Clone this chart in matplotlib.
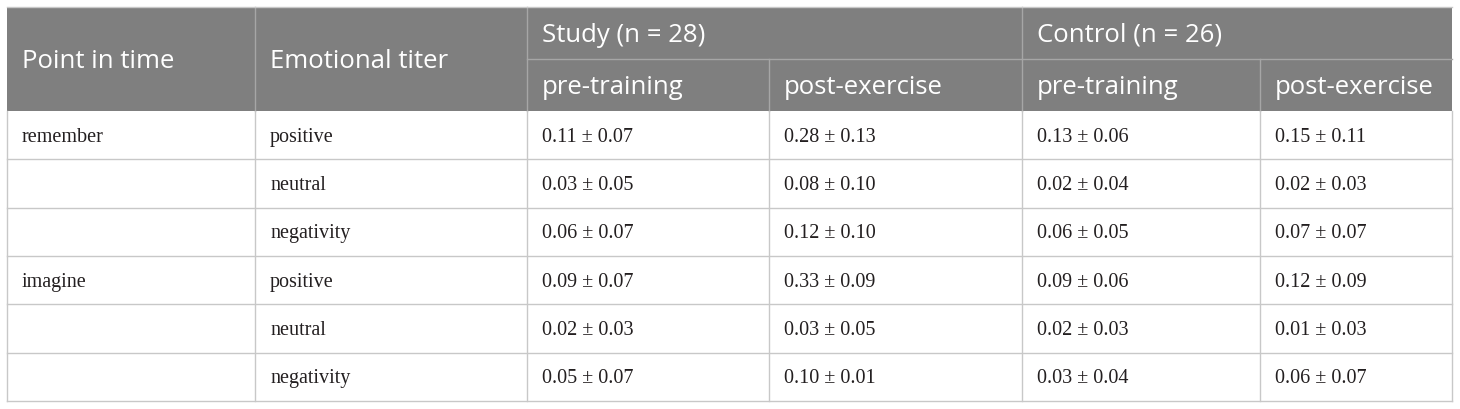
import matplotlib.pyplot as plt
from matplotlib.patches import Rectangle

# table content
groups = ["Study (n = 28)", "Control (n = 26)"]
phases = ["pre-training", "post-exercise"]
time_points = ["remember", "", "", "imagine", "", ""]
titers = ["positive", "neutral", "negativity", "positive", "neutral", "negativity"]
study_pre = ["0.11 ± 0.07", "0.03 ± 0.05", "0.06 ± 0.07", "0.09 ± 0.07", "0.02 ± 0.03", "0.05 ± 0.07"]
study_post = ["0.28 ± 0.13", "0.08 ± 0.10", "0.12 ± 0.10", "0.33 ± 0.09", "0.03 ± 0.05", "0.10 ± 0.01"]
control_pre = ["0.13 ± 0.06", "0.02 ± 0.04", "0.06 ± 0.05", "0.09 ± 0.06", "0.02 ± 0.03", "0.03 ± 0.04"]
control_post = ["0.15 ± 0.11", "0.02 ± 0.03", "0.07 ± 0.07", "0.12 ± 0.09", "0.01 ± 0.03", "0.06 ± 0.07"]

# layout in pixels
W, H = 1460, 409
col_x = [7, 255, 527, 769, 1022, 1260, 1452]
top, mid, head_bot = 7, 59, 111
row_h = (401 - head_bot) / 6
pad = 15
dy = 2  # text sits a bit below the cell centre

head_bg = '#7f7f7f'
head_line = '#a6a6a6'
grid = '#c8c8c8'
head_font = dict(family='Open Sans', size=18.5, color='white', va='center', ha='left')
cell_font = dict(family='Liberation Serif', size=14.5, color='#231f20', va='center', ha='left')

fig = plt.figure(figsize=(W / 100, H / 100), dpi=100)
ax = fig.add_axes([0, 0, 1, 1])
ax.set_xlim(0, W)
ax.set_ylim(H, 0)
ax.axis('off')

# header background
ax.add_patch(Rectangle((col_x[0], top), col_x[-1] - col_x[0], head_bot - top,
                       facecolor=head_bg, edgecolor='none'))

# header lines
for x in col_x[1:-1]:
    y0 = top if x in (col_x[1], col_x[2], col_x[4]) else mid
    ax.plot([x, x], [y0, head_bot], color=head_line, lw=1)
ax.plot([col_x[2], col_x[-1]], [mid, mid], color=head_line, lw=1)

# header text
ax.text(col_x[0] + pad, (top + head_bot) / 2 + dy, "Point in time", **head_font)
ax.text(col_x[1] + pad, (top + head_bot) / 2 + dy, "Emotional titer", **head_font)
for gi, g in enumerate(groups):
    ax.text(col_x[2 + 2 * gi] + pad, (top + mid) / 2 + dy, g, **head_font)
    for pi, p in enumerate(phases):
        ax.text(col_x[2 + 2 * gi + pi] + pad, (mid + head_bot) / 2 + dy, p, **head_font)

# body
columns = [time_points, titers, study_pre, study_post, control_pre, control_post]
for r in range(len(titers)):
    y = head_bot + r * row_h
    ax.plot([col_x[0], col_x[-1]], [y + row_h, y + row_h], color=grid, lw=1)
    for c, vals in enumerate(columns):
        ax.text(col_x[c] + pad, y + row_h / 2 + dy, vals[r], **cell_font)

bottom = head_bot + 6 * row_h
for x in col_x:
    ax.plot([x, x], [head_bot, bottom], color=grid, lw=1)
ax.plot([col_x[0], col_x[-1]], [top, top], color=grid, lw=1)

fig.savefig('out.png', dpi=100)
